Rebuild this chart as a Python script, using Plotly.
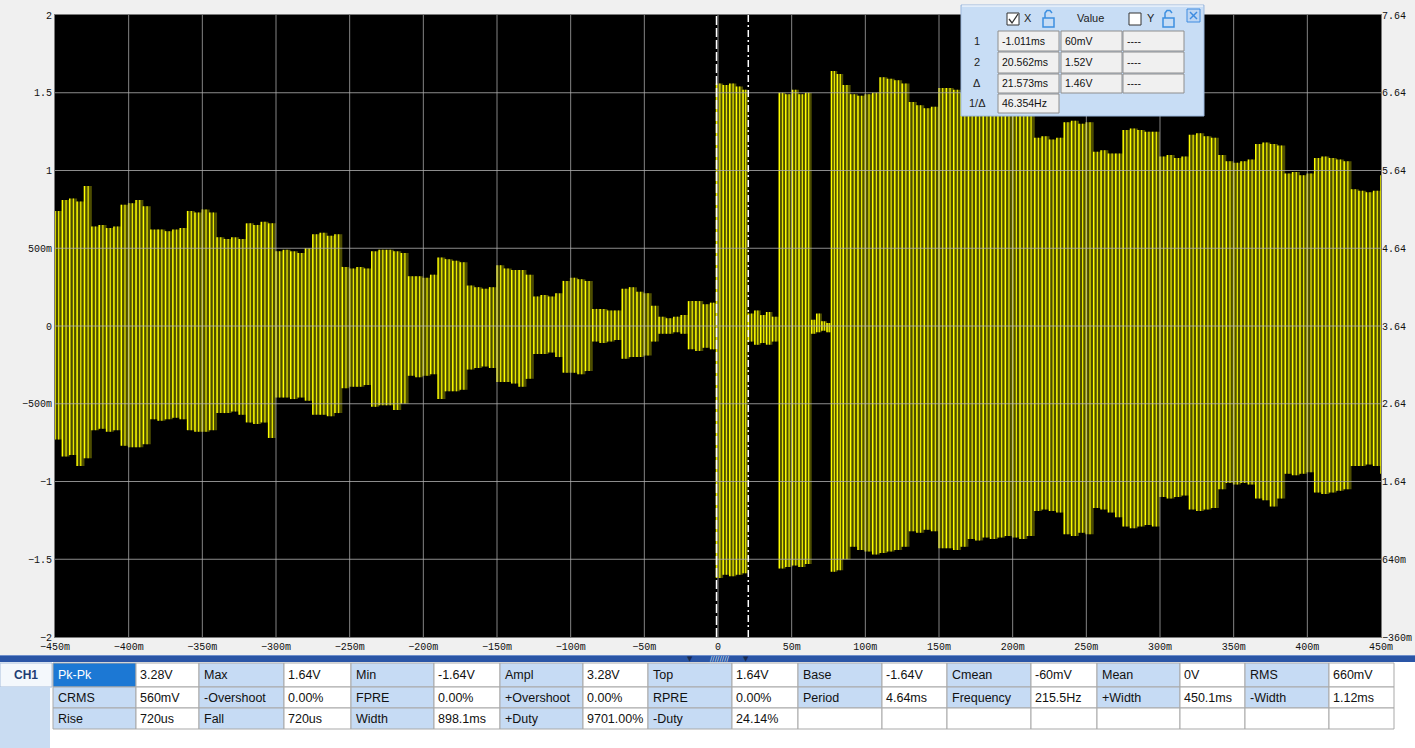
import plotly.graph_objects as go

# ---------------- data ----------------
times_ms = [
    -450, -445, -440, -435, -430, -425, -420, -415, -410, -405,
    -400, -395, -390, -385, -380, -375, -370, -365, -360, -355,
    -350, -345, -340, -335, -330, -325, -320, -315, -310, -305,
    -300, -295, -290, -285, -280, -275, -270, -265, -260, -255,
    -250, -245, -240, -235, -230, -225, -220, -215, -210, -205,
    -200, -195, -190, -185, -180, -175, -170, -165, -160, -155,
    -150, -145, -140, -135, -130, -125, -120, -115, -110, -105,
    -100, -95, -90, -85, -80, -75, -70, -65, -60, -55,
    -50, -45, -40, -35, -30, -25, -20, -15, -10, -5,
    -1, 3.5, 8, 12.5, 17, 20.6, 25, 29, 33, 37,
    41.6, 46, 50.5, 55, 59.5, 63.6, 67, 70.5, 74,
    77, 81, 85,
    90, 95, 100, 105, 110, 115, 120, 125, 130, 135,
    140, 145, 150, 155, 160, 165, 170, 175, 180, 185,
    190, 195, 200, 205, 210, 215, 220, 225, 230, 235,
    240, 245, 250, 255, 260, 265, 270, 275, 280, 285,
    290, 295, 300, 305, 310, 315, 320, 325, 330, 335,
    340, 345, 350, 355, 360, 365, 370, 375, 380, 385,
    390, 395, 400, 405, 410, 415, 420, 425, 430, 435,
    440, 445, 450,
]
upper_v = [
    0.74, 0.81, 0.82, 0.80, 0.90, 0.64, 0.65, 0.63, 0.64, 0.78,
    0.79, 0.81, 0.77, 0.62, 0.62, 0.61, 0.62, 0.63, 0.74, 0.73,
    0.75, 0.73, 0.57, 0.56, 0.57, 0.56, 0.66, 0.65, 0.67, 0.66,
    0.48, 0.49, 0.48, 0.47, 0.50, 0.59, 0.60, 0.58, 0.59, 0.38,
    0.37, 0.38, 0.37, 0.48, 0.49, 0.49, 0.48, 0.47, 0.32, 0.32,
    0.31, 0.33, 0.44, 0.43, 0.42, 0.41, 0.26, 0.25, 0.24, 0.25,
    0.39, 0.37, 0.36, 0.36, 0.33, 0.19, 0.20, 0.19, 0.21, 0.29,
    0.31, 0.30, 0.29, 0.11, 0.11, 0.10, 0.10, 0.24, 0.25, 0.22,
    0.21, 0.13, 0.06, 0.05, 0.06, 0.07, 0.16, 0.16, 0.14, 0.15,
    1.56, 1.55, 1.56, 1.54, 1.52, 0.08, 0.10, 0.07, 0.09, 0.06,
    1.50, 1.49, 1.52, 1.49, 1.50, 0.04, 0.08, 0.03, 0.02,
    1.64, 1.62, 1.55,
    1.49, 1.48, 1.49, 1.50, 1.60, 1.59, 1.58, 1.56, 1.44, 1.42,
    1.40, 1.41, 1.53, 1.53, 1.52, 1.50, 1.46, 1.45, 1.44, 1.45,
    1.40, 1.40, 1.39, 1.38, 1.37, 1.21, 1.22, 1.20, 1.21, 1.31,
    1.32, 1.30, 1.31, 1.12, 1.13, 1.11, 1.11, 1.26, 1.27, 1.26,
    1.25, 1.25, 1.09, 1.10, 1.08, 1.09, 1.23, 1.24, 1.22, 1.21,
    1.10, 1.06, 1.05, 1.06, 1.07, 1.17, 1.18, 1.17, 1.16, 0.98,
    0.99, 0.97, 0.98, 1.08, 1.09, 1.08, 1.07, 1.06, 0.88, 0.87,
    0.86, 0.87, 0.97,
]
lower_v = [
    -0.73, -0.84, -0.83, -0.90, -0.85, -0.67, -0.66, -0.68, -0.67, -0.77,
    -0.78, -0.78, -0.76, -0.60, -0.61, -0.60, -0.59, -0.60, -0.67, -0.68,
    -0.68, -0.67, -0.56, -0.56, -0.55, -0.57, -0.62, -0.63, -0.62, -0.72,
    -0.46, -0.46, -0.47, -0.46, -0.48, -0.57, -0.57, -0.58, -0.56, -0.40,
    -0.39, -0.39, -0.38, -0.52, -0.51, -0.51, -0.54, -0.50, -0.32, -0.33,
    -0.32, -0.31, -0.47, -0.42, -0.42, -0.41, -0.28, -0.27, -0.26, -0.27,
    -0.36, -0.36, -0.37, -0.39, -0.34, -0.18, -0.18, -0.17, -0.20, -0.30,
    -0.30, -0.31, -0.29, -0.10, -0.11, -0.10, -0.09, -0.21, -0.20, -0.20,
    -0.19, -0.10, -0.05, -0.05, -0.04, -0.05, -0.15, -0.16, -0.14, -0.15,
    -1.62, -1.60, -1.61, -1.60, -1.59, -0.10, -0.12, -0.11, -0.12, -0.10,
    -1.56, -1.55, -1.54, -1.55, -1.53, -0.05, -0.04, -0.03, -0.04,
    -1.58, -1.57, -1.50,
    -1.42, -1.44, -1.45, -1.47, -1.46, -1.45, -1.44, -1.42, -1.32, -1.33,
    -1.31, -1.32, -1.43, -1.43, -1.44, -1.42, -1.37, -1.38, -1.36, -1.37,
    -1.36, -1.35, -1.36, -1.37, -1.35, -1.19, -1.18, -1.19, -1.20, -1.34,
    -1.35, -1.33, -1.34, -1.17, -1.18, -1.20, -1.23, -1.29, -1.30, -1.29,
    -1.28, -1.29, -1.10, -1.11, -1.10, -1.09, -1.18, -1.19, -1.18, -1.17,
    -1.05, -1.01, -1.02, -1.01, -1.02, -1.11, -1.12, -1.16, -1.11, -0.95,
    -0.96, -0.95, -0.94, -1.07, -1.08, -1.07, -1.06, -1.05, -0.90, -0.90,
    -0.89, -0.90, -0.95,
]

x_tickvals = [-450, -400, -350, -300, -250, -200, -150, -100, -50, 0,
              50, 100, 150, 200, 250, 300, 350, 400, 450]
x_ticktext = ["\u2212450m", "\u2212400m", "\u2212350m", "\u2212300m", "\u2212250m",
              "\u2212200m", "\u2212150m", "\u2212100m", "\u221250m", "0",
              "50m", "100m", "150m", "200m", "250m", "300m", "350m", "400m", "450m"]
y_tickvals = [-2, -1.5, -1, -0.5, 0, 0.5, 1, 1.5, 2]
y_ticktext = ["\u22122", "\u22121.5", "\u22121", "\u2212500m", "0", "500m", "1", "1.5", "2"]
y2_tickvals = [-0.36, 0.64, 1.64, 2.64, 3.64, 4.64, 5.64, 6.64, 7.64]
y2_ticktext = ["\u2212360m", "640m", "1.64", "2.64", "3.64", "4.64", "5.64", "6.64", "7.64"]

cursor_times = [-1.011, 20.562]

cursor_rows = [
    ["1", "-1.011ms", "60mV", "----"],
    ["2", "20.562ms", "1.52V", "----"],
    ["\u0394", "21.573ms", "1.46V", "----"],
    ["1/\u0394", "46.354Hz", None, None],
]

meas_rows = [
    [("Pk-Pk", "3.28V"), ("Max", "1.64V"), ("Min", "-1.64V"), ("Ampl", "3.28V"),
     ("Top", "1.64V"), ("Base", "-1.64V"), ("Cmean", "-60mV"), ("Mean", "0V"), ("RMS", "660mV")],
    [("CRMS", "560mV"), ("-Overshoot", "0.00%"), ("FPRE", "0.00%"), ("+Overshoot", "0.00%"),
     ("RPRE", "0.00%"), ("Period", "4.64ms"), ("Frequency", "215.5Hz"), ("+Width", "450.1ms"),
     ("-Width", "1.12ms")],
    [("Rise", "720us"), ("Fall", "720us"), ("Width", "898.1ms"), ("+Duty", "9701.00%"),
     ("-Duty", "24.14%"), ("", ""), ("", ""), ("", ""), ("", "")],
]

# ---------------- geometry helpers ----------------
W, H = 1415, 748
L, R, T, B = 55, 1381, 15, 637


def px(x):
    return (x - L) / (R - L)


def py(y):
    return (B - y) / (B - T)


shapes = []
annotations = []


def rect(x0, y0, x1, y1, fill, line=None, lw=1):
    shapes.append(dict(type="rect", xref="paper", yref="paper",
                       x0=px(x0), x1=px(x1), y0=py(y1), y1=py(y0),
                       fillcolor=fill,
                       line=dict(color=line if line else "rgba(0,0,0,0)", width=lw if line else 0),
                       layer="above"))


def seg(x0, y0, x1, y1, color, w=1):
    shapes.append(dict(type="line", xref="paper", yref="paper",
                       x0=px(x0), x1=px(x1), y0=py(y0), y1=py(y1),
                       line=dict(color=color, width=w), layer="above"))


def path(pts, color, w=1.5):
    d = "M " + " L ".join(f"{px(a)},{py(b)}" for a, b in pts)
    shapes.append(dict(type="path", xref="paper", yref="paper", path=d,
                       line=dict(color=color, width=w), layer="above"))


def txt(x, y, s, size=12, color="#000", anchor="left", family="Liberation Sans"):
    annotations.append(dict(xref="paper", yref="paper", x=px(x), y=py(y), text=s,
                            showarrow=False, xanchor=anchor, yanchor="middle",
                            font=dict(family=family, size=size, color=color), borderpad=0))


# ---------------- waveform: vertical strokes between the read envelopes ----------------
n = len(times_ms)
stroke_x, stroke_y = [], []
half_x, half_y = [], []
for i in range(n):
    t0 = times_ms[i]
    t1 = times_ms[i + 1] if i + 1 < n else t0 + 5
    tm = (t0 + t1) / 2
    stroke_x += [t0, t0, None]
    stroke_y += [upper_v[i], lower_v[i], None]
    half_x += [tm, tm, None]
    half_y += [upper_v[i], lower_v[i], None]

band_x = times_ms + [times_ms[-1] + 5]
band_up = upper_v + [upper_v[-1]]
band_lo = lower_v + [lower_v[-1]]

fig = go.Figure()
fig.add_trace(go.Scatter(x=band_x, y=band_up, mode="lines",
                         line=dict(width=0, shape="hv"), hoverinfo="skip", showlegend=False))
fig.add_trace(go.Scatter(x=band_x, y=band_lo, mode="lines", fill="tonexty",
                         fillcolor="rgba(128,128,0,0.6)",
                         line=dict(width=0, shape="hv"), hoverinfo="skip", showlegend=False))
fig.add_trace(go.Scatter(x=half_x, y=half_y, mode="lines",
                         line=dict(color="#E6E600", width=1.3), hoverinfo="skip", showlegend=False))
fig.add_trace(go.Scatter(x=stroke_x, y=stroke_y, mode="lines",
                         line=dict(color="#FFFF00", width=1.5), hoverinfo="skip", showlegend=False))
fig.add_trace(go.Scatter(x=[None], y=[None], yaxis="y2", mode="lines", showlegend=False))

# ---------------- grid (drawn on top like the scope) ----------------
for xv in x_tickvals[1:-1]:
    shapes.append(dict(type="line", xref="x", yref="paper", x0=xv, x1=xv, y0=0, y1=1,
                       line=dict(color="rgba(165,165,165,0.8)", width=1), layer="above"))
for yv in y_tickvals[1:-1]:
    shapes.append(dict(type="line", xref="paper", yref="y", x0=0, x1=1, y0=yv, y1=yv,
                       line=dict(color="rgba(175,175,175,0.8)", width=1), layer="above"))

# cursors
shapes.append(dict(type="line", xref="x", yref="paper", x0=cursor_times[0], x1=cursor_times[0],
                   y0=0, y1=1, line=dict(color="#FFFFFF", width=1.5, dash="9px,3px"), layer="above"))
shapes.append(dict(type="line", xref="x", yref="paper", x0=cursor_times[1], x1=cursor_times[1],
                   y0=0, y1=1, line=dict(color="#FFFFFF", width=1.5, dash="7px,3px,2px,3px"),
                   layer="above"))

# ---------------- cursor panel ----------------
rect(961, 5, 1204, 116, "#C8DDF5", "#9DB9DE", 1)
seg(962, 6, 1203, 6, "#FFFFFF", 1)
rect(1007, 13, 1019, 25, "#FFFFFF", "#333333", 1)
path([(1009, 19), (1012, 23), (1018, 14)], "#333333", 1.3)
txt(1023, 18, "X", 11, "#222")
rect(1043, 18, 1054, 27, "rgba(0,0,0,0)", "#3D8FE0", 1.5)
path([(1045, 18), (1045, 13), (1047, 10.5), (1050, 10.5), (1052, 13)], "#3D8FE0", 1.5)
txt(1090, 18, "Value", 11, "#222", "center")
rect(1129, 13, 1141, 25, "#FFFFFF", "#333333", 1)
txt(1146, 18, "Y", 11, "#222")
rect(1163, 18, 1174, 27, "rgba(0,0,0,0)", "#3D8FE0", 1.5)
path([(1165, 18), (1165, 13), (1167, 10.5), (1170, 10.5), (1172, 13)], "#3D8FE0", 1.5)
rect(1187, 9, 1200, 22, "#BCD5F3", "#3E8BE0", 1)
seg(1190, 12, 1197, 19, "#3E8BE0", 1.5)
seg(1190, 19, 1197, 12, "#3E8BE0", 1.5)

cell_rows = [(31, 51), (52, 73), (74, 93), (94, 113)]
cell_cols = [(998, 1059), (1061, 1122), (1123, 1184)]
for (ya, yb), row in zip(cell_rows, cursor_rows):
    txt(977, (ya + yb) / 2, row[0], 11, "#222", "center")
    for (xa, xb), val in zip(cell_cols, row[1:]):
        if val is None:
            continue
        rect(xa, ya, xb, yb, "#F0F0F0", "#8E8E8E", 1)
        txt(xa + 3, (ya + yb) / 2, val, 10.5, "#111")

# ---------------- bottom measurement panel ----------------
rect(0, 662, 1415, 748, "#FFFFFF")
rect(0, 655, 1415, 662, "#2A55A6")
seg(0, 655.5, 1415, 655.5, "#6F8FCB", 1)
txt(690, 658.5, "\u25BC", 7, "#1A2A50", "center", "DejaVu Sans")
txt(720, 658.5, "////////", 7, "#DDE6F5", "center", "DejaVu Sans")
txt(746, 658.5, "\u25BC", 7, "#1A2A50", "center", "DejaVu Sans")
rect(0, 663, 52, 687, "#F4F8FC", "#A8BEDC", 1)
rect(0, 687, 50, 748, "#C9DCF2")
txt(26, 675, "<b>CH1</b>", 12, "#1F3E74", "center")

col_edges = [53, 136, 199, 284, 351, 434, 500, 583, 648, 732, 798, 882,
             947, 1031, 1097, 1180, 1245, 1329, 1394]
row_edges = [663, 687, 708, 729]
for r, row in enumerate(meas_rows):
    ya, yb = row_edges[r], row_edges[r + 1]
    ym = (ya + yb) / 2
    for c, (lab, val) in enumerate(row):
        xa, xb, xc = col_edges[2 * c], col_edges[2 * c + 1], col_edges[2 * c + 2]
        if r == 0 and c == 0:
            lfill, lcol = "#1C78D4", "#FFFFFF"
        elif lab:
            lfill, lcol = "#C6DBF4", "#111111"
        else:
            lfill, lcol = "#FFFFFF", "#111111"
        rect(xa, ya, xb, yb, lfill, "#A9A9A9", 1)
        rect(xb, ya, xc, yb, "#FFFFFF", "#A9A9A9", 1)
        if lab:
            txt(xa + 4, ym, lab, 12.5, lcol)
        if val:
            txt(xb + 3, ym, val, 12.5, "#111111")

# ---------------- layout ----------------
tick_font = dict(family="Liberation Mono", size=10, color="#111111")
fig.update_layout(
    width=W, height=H, autosize=False,
    margin=dict(l=L, r=W - R, t=T, b=H - B, pad=0, autoexpand=False),
    paper_bgcolor="#F0F0F0", plot_bgcolor="#000000",
    showlegend=False,
    xaxis=dict(range=[-450, 450], tickvals=x_tickvals, ticktext=x_ticktext,
               showgrid=False, zeroline=False, showline=True, linecolor="#7A7A7A",
               mirror=True, ticks="", tickfont=tick_font, automargin=False),
    yaxis=dict(range=[-2, 2], tickvals=y_tickvals, ticktext=y_ticktext,
               showgrid=False, zeroline=False, showline=True, linecolor="#7A7A7A",
               mirror=True, ticks="", tickfont=tick_font, automargin=False),
    yaxis2=dict(range=[-0.36, 7.64], tickvals=y2_tickvals, ticktext=y2_ticktext,
                overlaying="y", side="right", showgrid=False, zeroline=False,
                ticks="", tickfont=tick_font, automargin=False),
    shapes=shapes,
    annotations=annotations,
)

fig.write_html(
    "out.html",
    config={"displayModeBar": False},
    post_script="document.body.style.margin='0';document.body.style.padding='0';"
                "document.body.style.background='#F0F0F0';",
)
